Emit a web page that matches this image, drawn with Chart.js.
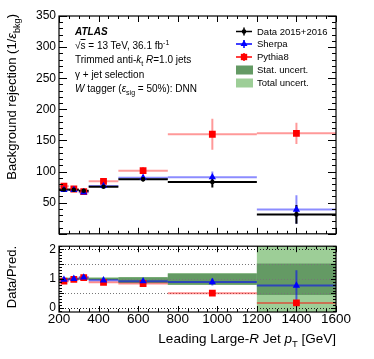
<!DOCTYPE html>
<html>
<head>
<meta charset="utf-8">
<script src="https://cdn.jsdelivr.net/npm/chart.js@4.4.1/dist/chart.umd.min.js"></script>
<style>
  body { margin: 0; background: #fff; }
  #wrap { position: relative; width: 374px; height: 359px; overflow: hidden; font-family: "Liberation Sans", Arial, sans-serif; }
  canvas { position: absolute; left: 0; }
  .t { position: absolute; white-space: nowrap; font-size: 10px; line-height: 12px; color: #000; }
  .lg { font-size: 9.5px; }
  .t sub, .t sup { font-size: 70%; line-height: 0; }
  .rot { position: absolute; white-space: nowrap; transform: rotate(-90deg); transform-origin: left top; text-align: right; font-size: 13px; line-height: 16px; }
  .rot sub { font-size: 70%; line-height: 0; }
</style>
</head>
<body>
<div id="wrap">
  <canvas id="topChart" width="374" height="244" style="top:0"></canvas>
  <canvas id="ratioChart" width="374" height="123" style="top:236px"></canvas>

  <div class="t" style="left:75px;top:26px;font-weight:bold;font-style:italic">ATLAS</div>
  <div class="t" style="left:75px;top:39.5px">√<span style="text-decoration:overline">s</span> = 13 TeV, 36.1 fb<sup>-1</sup></div>
  <div class="t" style="left:75px;top:54px">Trimmed anti-<i>k</i><sub>t</sub> <i>R</i>=1.0 jets</div>
  <div class="t" style="left:75px;top:68.5px">γ + jet selection</div>
  <div class="t" style="left:75px;top:83px"><i>W</i> tagger (<i>ε</i><sub>sig</sub> = 50%): DNN</div>

  <div class="t lg" style="left:257px;top:25.5px">Data 2015+2016</div>
  <div class="t lg" style="left:257px;top:38px">Sherpa</div>
  <div class="t lg" style="left:257px;top:51px">Pythia8</div>
  <div class="t lg" style="left:257px;top:64px">Stat. uncert.</div>
  <div class="t lg" style="left:257px;top:77px">Total uncert.</div>

  <div class="rot" style="left:4px;top:244px;width:230px">Background rejection (1/<i>ε</i><sub>bkg</sub>)</div>
  <div class="rot" style="left:4px;top:346px;width:100px">Data/Pred.</div>
  <div class="t" style="right:38px;top:331px;font-size:13.5px;line-height:16px">Leading Large-<i>R</i> Jet <i>p</i><sub>T</sub> [GeV]</div>
</div>

<script>
// bins in leading large-R jet pT [GeV]
const binEdges = [200, 250, 300, 350, 500, 750, 1200, 1600];

// background rejection, top panel
const dataRej = [71.3, 70.8, 69.3, 75.5, 87.5, 83.3, 31.2];
const dataErr = [1.5, 1.5, 1.5, 1.5, 3, 9, 15];
const sherpaRej = [70.5, 70.5, 66.7, 77, 90, 91, 39];
const sherpaErr = [1.5, 1.5, 1.5, 2, 4, 9, 23];
const pythiaRej = [76.5, 72, 67.7, 84.4, 101.5, 160, 161.5];
const pythiaErr = [2, 2, 2, 3, 6, 25, 17];

// data / prediction, bottom panel
const sherpaRatio = [0.97, 1.0, 1.05, 0.95, 0.92, 0.89, 0.77];
const sherpaRatioErr = [0.03, 0.03, 0.03, 0.03, 0.05, 0.12, 0.52];
const pythiaRatio = [0.92, 0.98, 1.04, 0.88, 0.84, 0.51, 0.18];
const pythiaRatioErr = [0.03, 0.03, 0.03, 0.03, 0.04, 0.05, 0.04];
const statLo = [0.97, 0.97, 0.97, 0.96, 0.86, 0.80, 0.45];
const statHi = [1.03, 1.03, 1.03, 1.03, 1.05, 1.18, 1.52];
const totLo = [0.96, 0.96, 0.96, 0.95, 0.85, 0.79, -0.3];
const totHi = [1.04, 1.04, 1.04, 1.05, 1.06, 1.19, 2.3];

// tick labels
const xTicks = [200, 400, 600, 800, 1000, 1200, 1400, 1600];
const rejTicks = [50, 100, 150, 200, 250, 300, 350];
const ratioTicks = [0, 0.5, 1, 1.5, 2];

const binCenters = binEdges.slice(0, -1).map((e, i) => (e + binEdges[i + 1]) / 2);
const pts = vals => vals.map((v, i) => ({ x: binCenters[i], y: v }));

Chart.defaults.font.family = '"Liberation Sans", Arial, sans-serif';
Chart.defaults.color = '#000';

const GREEN_DARK = '#649a64';
const GREEN_LIGHT = '#9dce97';

// horizontal bin lines + vertical error bars, and the ratio bands
const histBars = {
  id: 'histBars',
  beforeDatasetsDraw(chart, args, opts) {
    const { ctx, chartArea: a, scales: { x, y } } = chart;
    ctx.save();
    ctx.beginPath();
    ctx.rect(a.left, a.top, a.width, a.height);
    ctx.clip();
    (opts.bands || []).forEach(b => {
      ctx.fillStyle = b.color;
      b.lo.forEach((lo, i) => {
        const x0 = x.getPixelForValue(binEdges[i]);
        const x1 = x.getPixelForValue(binEdges[i + 1]);
        const y0 = y.getPixelForValue(b.hi[i]);
        const y1 = y.getPixelForValue(lo);
        ctx.fillRect(x0, y0, x1 - x0, y1 - y0);
      });
    });
    (opts.dotted || []).forEach(v => {
      const py = Math.round(y.getPixelForValue(v)) + 0.5;
      ctx.setLineDash([1, 2]);
      ctx.strokeStyle = (v === 0 || v === 2) ? '#222' : '#777';
      ctx.lineWidth = 1;
      ctx.beginPath();
      ctx.moveTo(a.left, py);
      ctx.lineTo(a.right, py);
      ctx.stroke();
    });
    ctx.setLineDash([]);
    chart.data.datasets.slice().reverse().forEach(ds => {
      ctx.strokeStyle = ds.barColor;
      ctx.lineWidth = 2;
      ds.data.forEach((p, i) => {
        const py = y.getPixelForValue(p.y);
        const px = x.getPixelForValue(p.x);
        ctx.beginPath();
        ctx.moveTo(x.getPixelForValue(binEdges[i]), py);
        ctx.lineTo(x.getPixelForValue(binEdges[i + 1]), py);
        ctx.moveTo(px, y.getPixelForValue(p.y - ds.errs[i]));
        ctx.lineTo(px, y.getPixelForValue(p.y + ds.errs[i]));
        ctx.stroke();
      });
    });
    ctx.restore();
  }
};

// ROOT style frame with inward ticks
const frame = {
  id: 'frame',
  afterDraw(chart, args, o) {
    const { ctx, chartArea: a, scales: { x, y } } = chart;
    ctx.save();
    ctx.strokeStyle = '#000';
    ctx.lineWidth = 1;
    ctx.beginPath();
    const eps = 1e-6;
    for (let v = Math.ceil(x.min / o.xMinor) * o.xMinor; v <= x.max + eps; v += o.xMinor) {
      const px = Math.round(x.getPixelForValue(v)) + 0.5;
      const major = Math.abs(v / o.xMajor - Math.round(v / o.xMajor)) < eps;
      const len = major ? o.xMajorLen : o.xMinorLen;
      ctx.moveTo(px, a.bottom); ctx.lineTo(px, a.bottom - len);
      ctx.moveTo(px, a.top); ctx.lineTo(px, a.top + len);
    }
    for (let k = Math.ceil(y.min / o.yMinor - eps); k * o.yMinor <= y.max + eps; k++) {
      const v = k * o.yMinor;
      const py = Math.round(y.getPixelForValue(v)) + 0.5;
      const major = Math.abs(v / o.yMajor - Math.round(v / o.yMajor)) < eps;
      const len = major ? o.yMajorLen : o.yMinorLen;
      ctx.moveTo(a.left, py); ctx.lineTo(a.left + len, py);
      ctx.moveTo(a.right, py); ctx.lineTo(a.right - len, py);
    }
    ctx.stroke();
    ctx.lineWidth = 1.2;
    ctx.strokeRect(a.left, a.top, a.width, a.height);
    ctx.restore();
  }
};

// legend symbols (text is html)
const legendMarks = {
  id: 'legendMarks',
  afterDraw(chart) {
    const ctx = chart.ctx;
    const x0 = 236, x1 = 252, xc = 244;
    const rows = [
      { y: 31.5, color: '#000', style: 'circle', r: 2.3 },
      { y: 44, color: '#0000ff', style: 'triangle', r: 4 },
      { y: 57, color: '#ff0000', style: 'rect', r: 4.5 }
    ];
    ctx.save();
    rows.forEach(r => {
      ctx.strokeStyle = r.color;
      ctx.fillStyle = r.color;
      ctx.lineWidth = 1.5;
      ctx.beginPath();
      ctx.moveTo(x0, r.y); ctx.lineTo(x1, r.y);
      ctx.moveTo(xc, r.y - 4); ctx.lineTo(xc, r.y + 4);
      ctx.stroke();
      Chart.helpers.drawPoint(ctx, { pointStyle: r.style, radius: r.r, rotation: 0, borderWidth: 0 }, xc, r.y);
    });
    ctx.fillStyle = GREEN_DARK;
    ctx.fillRect(x0, 65.5, x1 - x0 + 1, 9);
    ctx.fillStyle = GREEN_LIGHT;
    ctx.fillRect(x0, 78.5, x1 - x0 + 1, 9);
    ctx.restore();
  }
};

const numLabel = v => String(v);

new Chart('topChart', {
  type: 'scatter',
  data: {
    datasets: [
      { label: 'Data 2015+2016', data: pts(dataRej), errs: dataErr, barColor: '#000',
        pointStyle: 'circle', pointRadius: 2.3, backgroundColor: '#000', borderWidth: 0 },
      { label: 'Sherpa', data: pts(sherpaRej), errs: sherpaErr, barColor: 'rgba(0,0,255,0.45)',
        pointStyle: 'triangle', pointRadius: 4.2, backgroundColor: '#0000ff', borderWidth: 0 },
      { label: 'Pythia8', data: pts(pythiaRej), errs: pythiaErr, barColor: 'rgba(255,0,0,0.4)',
        pointStyle: 'rect', pointRadius: 4.8, backgroundColor: '#ff0000', borderWidth: 0 }
    ]
  },
  options: {
    responsive: false,
    animation: false,
    devicePixelRatio: 1,
    events: [],
    layout: { padding: { left: 0, right: 38, top: 16, bottom: 4 } },
    scales: {
      x: { type: 'linear', min: 200, max: 1600, display: false },
      y: {
        min: 0, max: 350,
        grid: { display: false, drawTicks: false },
        border: { display: false },
        afterFit: s => { s.width = 59; },
        afterBuildTicks: s => { s.ticks = rejTicks.map(v => ({ value: v })); },
        ticks: { padding: 3, font: { size: 12 }, callback: numLabel }
      }
    },
    plugins: {
      legend: { display: false },
      tooltip: { enabled: false },
      histBars: {},
      frame: { xMinor: 50, xMajor: 200, xMajorLen: 6, xMinorLen: 3,
               yMinor: 10, yMajor: 50, yMajorLen: 8, yMinorLen: 4 }
    }
  },
  plugins: [histBars, frame, legendMarks]
});

new Chart('ratioChart', {
  type: 'scatter',
  data: {
    datasets: [
      { label: 'Sherpa', data: pts(sherpaRatio), errs: sherpaRatioErr, barColor: 'rgba(0,0,255,0.55)',
        pointStyle: 'triangle', pointRadius: 4.2, backgroundColor: '#0000ff', borderWidth: 0 },
      { label: 'Pythia8', data: pts(pythiaRatio), errs: pythiaRatioErr, barColor: 'rgba(255,0,0,0.45)',
        pointStyle: 'rect', pointRadius: 4.8, backgroundColor: '#ff0000', borderWidth: 0 }
    ]
  },
  options: {
    responsive: false,
    animation: false,
    devicePixelRatio: 1,
    events: [],
    layout: { padding: { left: 0, right: 38, top: 10, bottom: 0 } },
    scales: {
      x: {
        type: 'linear', min: 200, max: 1600,
        grid: { display: false, drawTicks: false },
        border: { display: false },
        afterFit: s => { s.height = 47; },
        afterBuildTicks: s => { s.ticks = xTicks.map(v => ({ value: v })); },
        ticks: { padding: -1, maxRotation: 0, font: { size: 13.5 }, callback: numLabel }
      },
      y: {
        min: -0.13, max: 2.11,
        grid: { display: false, drawTicks: false },
        border: { display: false },
        afterFit: s => { s.width = 59; },
        afterBuildTicks: s => { s.ticks = ratioTicks.map(v => ({ value: v })); },
        ticks: { padding: 3, font: { size: 12 }, callback: numLabel }
      }
    },
    plugins: {
      legend: { display: false },
      tooltip: { enabled: false },
      histBars: {
        bands: [
          { lo: totLo, hi: totHi, color: GREEN_LIGHT },
          { lo: statLo, hi: statHi, color: GREEN_DARK }
        ],
        dotted: ratioTicks
      },
      frame: { xMinor: 50, xMajor: 200, xMajorLen: 6, xMinorLen: 3,
               yMinor: 0.1, yMajor: 0.5, yMajorLen: 5, yMinorLen: 3 }
    }
  },
  plugins: [histBars, frame]
});
</script>
</body>
</html>
